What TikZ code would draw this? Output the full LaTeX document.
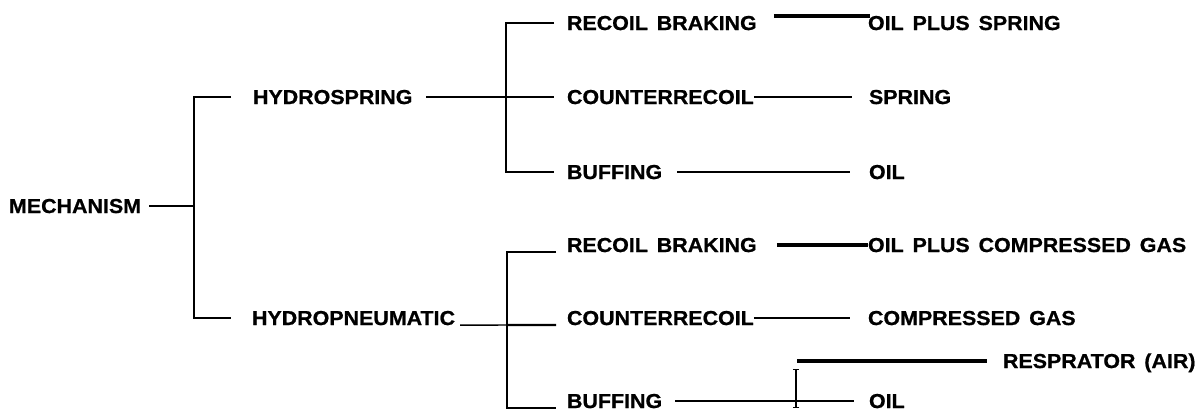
\documentclass[tikz,border=0pt]{standalone}
\usepackage{fontspec}
\setmainfont[FakeStretch=1.06, BoldFeatures={FakeBold=0.8}]{Liberation Sans}
\usepackage{tikz}
\usetikzlibrary{positioning, calc, arrows.meta}

\newcommand{\termfont}{\fontsize{11.5}{13}\selectfont\bfseries\spaceskip=0.44em\relax}

\begin{document}
\begin{tikzpicture}[
    x=0.02cm, y=-0.02cm,
    term/.style={anchor=west, inner sep=0pt, outer sep=0pt, font={\termfont}, text height=8pt, text depth=0pt},
    thin_line/.style={line width=0.85pt},
    mid_line/.style={line width=1.3pt},
    thick_line/.style={line width=2pt},
    stop_bar/.style={line width=0.8pt, {Bar[width=0.13cm]}-{Bar[width=0.13cm]}}
]
    \useasboundingbox (0,0) rectangle (1199,411);

    % Root
    \node[term] (mech) at (9,206) {MECHANISM};

    % Types
    \node[term] (hs) at (253,97) {HYDROSPRING};
    \node[term] (hp) at (252,318) {HYDROPNEUMATIC};

    % Functions, hydrospring
    \node[term] (rb1) at (567,23) {RECOIL BRAKING};
    \node[term] (cr1) at (567,97) {COUNTERRECOIL};
    \node[term] (bf1) at (567,172) {BUFFING};

    % Functions, hydropneumatic
    \node[term] (rb2) at (567,245) {RECOIL BRAKING};
    \node[term] (cr2) at (567,318) {COUNTERRECOIL};
    \node[term] (bf2) at (567,401) {BUFFING};

    % Media
    \node[term] (ops) at (868,23) {OIL PLUS SPRING};
    \node[term] (spring) at (869,97) {SPRING};
    \node[term] (oil1) at (869,172) {OIL};
    \node[term] (opcg) at (868,245) {OIL PLUS COMPRESSED GAS};
    \node[term] (cg) at (868,318) {COMPRESSED GAS};
    \node[term] (resp) at (1003,361) {RESPRATOR (AIR)};
    \node[term] (oil2) at (869,401) {OIL};

    % Junctions
    \coordinate (b1) at (194,206);
    \coordinate (b2) at (506,97);
    \coordinate (b3) at (507,325);
    \coordinate (r0) at (797,361);
    \coordinate (t1) at (796,369);
    \coordinate (t2) at (796,408);

    % Mechanism bracket
    \draw[thin_line, shorten <=0.16cm] (mech.east) -- (b1);
    \draw[thin_line, shorten <=0.44cm, shorten >=0.42cm] (hs.west) -| (b1) |- (hp.west);

    % Hydrospring bracket
    \draw[thin_line, shorten <=0.28cm] (hs.east) -- (b2);
    \draw[mid_line, shorten <=0.26cm, shorten >=0.26cm] (rb1.west) -| (b2) |- (bf1.west);
    \draw[mid_line, shorten >=0.26cm] (b2) -- (cr1.west);

    % Hydropneumatic bracket
    \draw[thin_line, shorten <=0.1cm] (hp.south east) -- (b3);
    \draw[mid_line, shorten <=0.22cm, shorten >=0.22cm] (rb2.south west) -| (b3) |- (bf2.south west);
    \draw[mid_line, shorten >=0.22cm] (b3) -- (cr2.south west);

    % Hydrospring media
    \draw[thick_line, shorten <=0.34cm, shorten >=-0.04cm] (rb1.north east) -- (ops.north west);
    \draw[thin_line, shorten >=0.34cm] (cr1.east) -- (spring.west);
    \draw[mid_line, shorten <=0.3cm, shorten >=0.38cm] (bf1.east) -- (oil1.west);

    % Hydropneumatic media
    \draw[thick_line, shorten <=0.4cm] (rb2.east) -- (opcg.west);
    \draw[thin_line, shorten >=0.36cm] (cr2.east) -- (cg.west);
    \draw[mid_line, shorten <=0.26cm, shorten >=0.3cm] (bf2.east) -- (oil2.west);
    \draw[thick_line, shorten >=0.32cm] (r0) -- (resp.west);
    \draw[stop_bar] (t1) -- (t2);
\end{tikzpicture}
\end{document}
